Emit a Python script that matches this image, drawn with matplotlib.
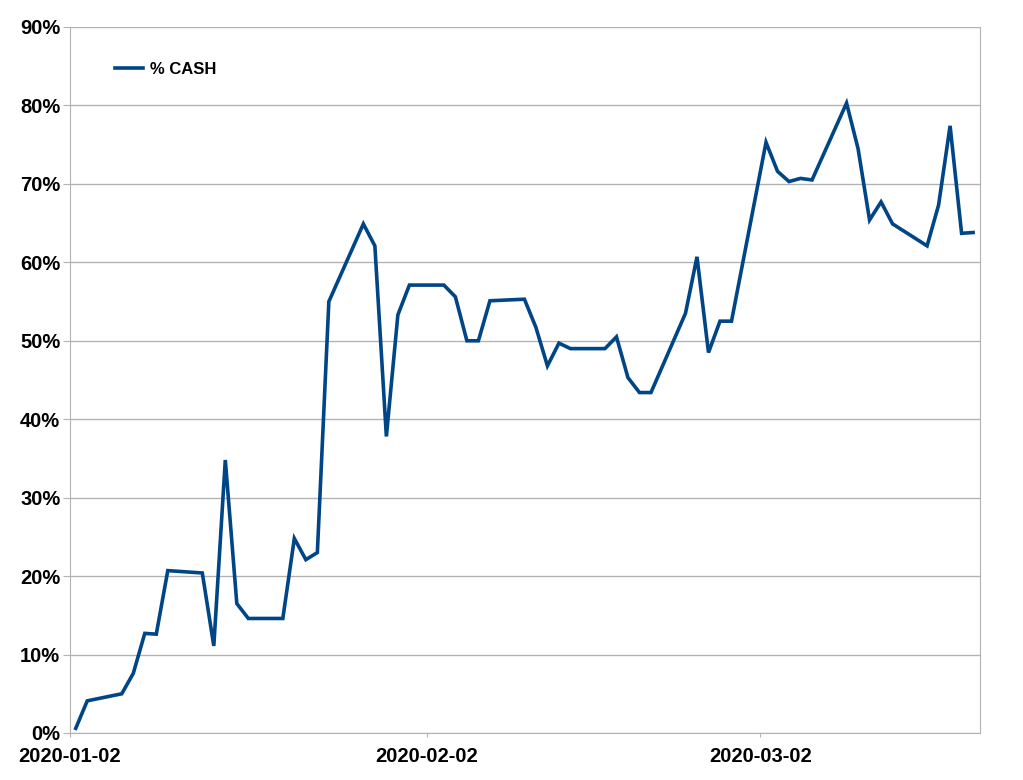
import matplotlib
matplotlib.use("Agg")
import matplotlib.pyplot as plt
import matplotlib.dates as mdates
import numpy as np
import pandas as pd
from matplotlib.ticker import PercentFormatter

# Daily % cash (trading days only)
dates = ["2020-01-02", "2020-01-03", "2020-01-06", "2020-01-07", "2020-01-08",
         "2020-01-09", "2020-01-10", "2020-01-13", "2020-01-14", "2020-01-15",
         "2020-01-16", "2020-01-17", "2020-01-20", "2020-01-21", "2020-01-22",
         "2020-01-23", "2020-01-24", "2020-01-27", "2020-01-28", "2020-01-29",
         "2020-01-30", "2020-01-31", "2020-02-03", "2020-02-04", "2020-02-05",
         "2020-02-06", "2020-02-07", "2020-02-10", "2020-02-11", "2020-02-12",
         "2020-02-13", "2020-02-14", "2020-02-17", "2020-02-18", "2020-02-19",
         "2020-02-20", "2020-02-21", "2020-02-24", "2020-02-25", "2020-02-26",
         "2020-02-27", "2020-02-28", "2020-03-02", "2020-03-03", "2020-03-04",
         "2020-03-05", "2020-03-06", "2020-03-09", "2020-03-10", "2020-03-11",
         "2020-03-12", "2020-03-13", "2020-03-16", "2020-03-17", "2020-03-18",
         "2020-03-19", "2020-03-20"]
cash = [0.6, 4.1, 5.0, 7.6, 12.7,
        12.6, 20.7, 20.4, 11.1, 34.8,
        16.5, 14.6, 14.6, 24.8, 22.1,
        23.0, 55.0, 64.9, 62.1, 37.8,
        53.3, 57.1, 57.1, 55.6, 50.0,
        50.0, 55.1, 55.3, 51.7, 46.8,
        49.7, 49.0, 49.0, 50.5, 45.3,
        43.4, 43.4, 53.5, 60.7, 48.5,
        52.5, 52.5, 75.3, 71.6, 70.3,
        70.7, 70.5, 80.3, 74.5, 65.4,
        67.7, 64.9, 62.1, 67.3, 77.4,
        63.7, 63.8]
tick_dates = ["2020-01-02", "2020-02-02", "2020-03-02"]

plt.rcParams['font.family'] = ['Liberation Sans', 'DejaVu Sans']

# points sit in the middle of each day, ticks at day start
x = mdates.date2num(pd.to_datetime(dates)) + 0.5
ticks = mdates.date2num(pd.to_datetime(tick_dates))

fig = plt.figure(figsize=(10.23, 7.80), dpi=100)
ax = fig.add_axes([70 / 1023, 47 / 780, 910 / 1023, 706 / 780])

ax.plot(x, cash, color="#004586", lw=2.6, label="% CASH",
        solid_joinstyle="miter")

ax.set_ylim(0, 90)
ax.set_yticks(np.arange(0, 91, 10))
ax.yaxis.set_major_formatter(PercentFormatter(decimals=0))
ax.set_xlim(ticks[0], ticks[0] + 79.1)
ax.set_xticks(ticks)
ax.set_xticklabels(tick_dates)

ax.grid(axis="y", color="#b3b3b3", lw=1)
ax.set_axisbelow(True)
for side in ["left", "right", "bottom"]:
    ax.spines[side].set_color("#b3b3b3")
ax.spines["top"].set_visible(False)

ax.tick_params(axis="y", length=5, color="#b3b3b3", pad=2, labelsize=14.5)
ax.tick_params(axis="x", length=3, color="#b3b3b3", pad=7, labelsize=14.5)
for lab in ax.get_xticklabels() + ax.get_yticklabels():
    lab.set_fontweight("bold")

leg = ax.legend(loc="upper left", bbox_to_anchor=(0.033, 0.972), frameon=False,
                prop={"size": 12, "weight": "bold"}, handlelength=1.7,
                handletextpad=0.4)

fig.savefig("out.png", dpi=100)
